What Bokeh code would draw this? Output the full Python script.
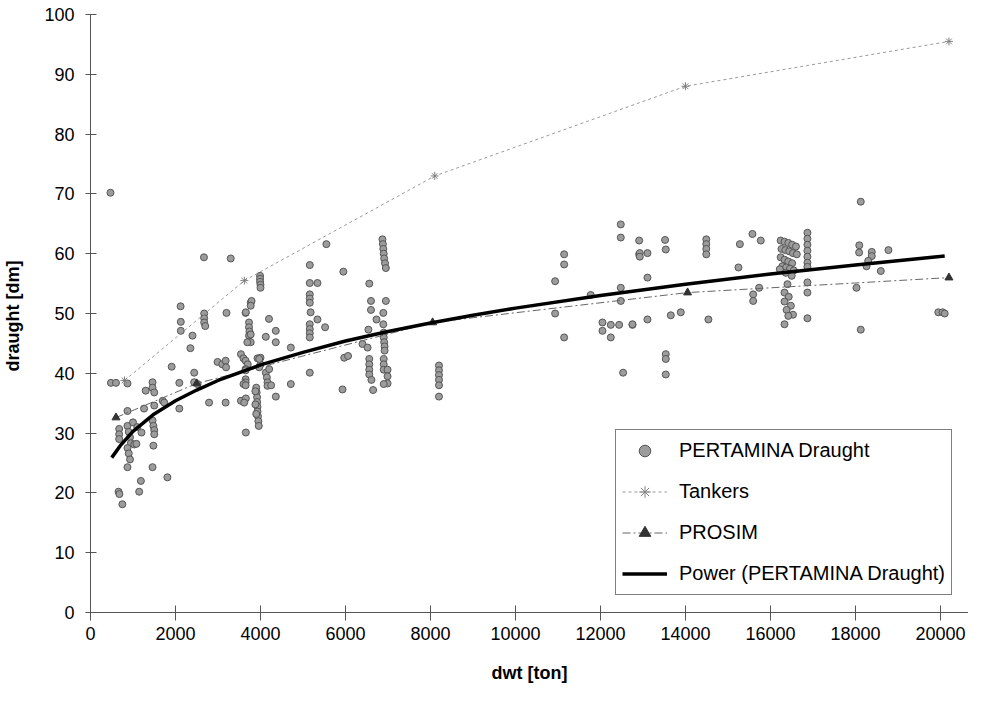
from bokeh.plotting import figure
from bokeh.models import Range1d, FixedTicker, Legend, LegendItem
from bokeh.embed import file_html
from bokeh.resources import INLINE

# PERTAMINA Draught (dwt [ton], draught [dm])
pert_dwt = [
    470, 480, 600, 870, 660, 680, 750, 675, 675, 675,
    870, 900, 930, 950, 870, 900, 930, 1030, 1080, 870,
    1145, 1185, 1460, 1810, 1460, 1480, 1500, 1500, 1480,
    870, 1260, 1500, 1700, 1735, 1300, 1460, 1460, 1500,
    2090, 2090, 2440, 2520, 1910, 2440, 2120, 2125, 2125, 2400, 2350,
    2675, 2675, 2675, 2700, 2670, 3300, 3200, 3650, 2790, 3180, 3540,
    2990, 3100, 3180, 3190, 1000, 1100, 1200,
    3540, 3600, 3650, 3700, 3650, 3650, 3650, 3650, 3600, 3650,
    3930, 4000, 4000, 3770, 3790, 3770, 3655,
    3730, 3730, 3740, 3730, 3770, 3770, 3690,
    3990, 3990, 3990, 4000, 4000,
    4200, 4360, 4125, 4360, 4714,
    4125, 4150, 4165, 4165, 4250, 4204,
    3900, 3910, 3920, 3920, 3930, 3930, 3940, 3950, 3960, 3880, 3880, 3900,
    3655, 3655, 3616, 4714, 4361, 3970, 3970,
    5550, 5160, 5950, 5160, 5340, 5160, 5160, 5160, 5180, 5340, 5160, 5160, 5160, 5160, 5520,
    5160, 5930, 5970, 6060,
    6560, 6600, 6950, 6600, 6890, 6730, 6890, 6540,
    6900, 6900, 6910, 6920, 6920, 6400, 6520,
    6870, 6880, 6890, 6900, 6910, 6930, 6950,
    6560, 6560, 6560, 6560, 6900, 6900, 6900, 6990, 6990, 6990, 6610, 6900, 6650,
    8200, 8200, 8200, 8200, 8200, 8200,
    11145, 11145, 10933, 10933, 11145,
    12478, 12478, 12910, 12910, 12478, 12478, 11770,
    12047, 12047, 12243, 12439, 12753, 12243, 12533,
    12925, 12925, 13106, 13106, 13106, 12753,
    13520, 13537, 13537, 13537, 13537, 13655, 13890,
    14490, 14490, 14490, 14490, 14540,
    15280, 15576, 15772, 15247, 15733, 15593, 15593,
    16240, 16330, 16420, 16510, 16600, 16260, 16350, 16440, 16530, 16620,
    16240, 16330, 16420, 16510, 16280, 16370, 16460, 16550,
    16870, 16870, 16870, 16870, 16870, 16870, 16870,
    16220, 16360, 16500, 16400,
    16330, 16430, 16330, 16480, 16380, 16530, 16420,
    16870, 16870, 16870, 16330,
    18090, 18086, 18125, 18384, 18384, 18776, 18300, 18260, 18596, 18024, 18125,
    19950, 20050, 20100,
]
pert_draught = [
    70.2, 38.4, 38.4, 38.3, 20.2, 19.8, 18.1, 30.7, 29.8, 29.0,
    31.2, 30.2, 29.3, 28.3, 27.5, 26.6, 25.6, 28.1, 28.2, 24.3,
    20.2, 22.0, 24.3, 22.6, 32.1, 31.2, 30.5, 29.8, 27.9,
    33.7, 34.1, 34.6, 35.4, 35.1, 37.1, 38.5, 37.6, 36.8,
    38.4, 34.1, 38.5, 38.2, 41.1, 40.1, 51.2, 48.6, 47.1, 46.3, 44.2,
    50.0, 49.2, 48.5, 47.9, 59.4, 59.2, 50.1, 50.1, 35.1, 35.1, 35.4,
    41.9, 41.5, 42.1, 41.0, 31.8, 31.0, 30.1,
    43.2, 42.5, 42.1, 41.5, 40.7, 40.5, 39.0, 38.5, 38.2, 38.0,
    42.5, 42.6, 41.5, 51.8, 52.1, 51.3, 50.2,
    48.5, 47.7, 47.0, 46.3, 46.5, 45.2, 45.2,
    56.3, 55.8, 55.3, 54.8, 54.3,
    49.1, 47.1, 46.1, 45.2, 44.3,
    40.1, 39.3, 38.5, 37.9, 38.0, 40.7,
    37.6, 36.8, 36.0, 35.2, 34.4, 33.6, 32.8, 32.0, 31.2, 37.0, 34.8, 33.2,
    30.1, 35.8, 35.1, 38.2, 36.1, 42.4, 41.0,
    61.6, 58.1, 57.0, 55.1, 55.1, 53.2, 52.5, 51.8, 50.2, 49.0, 48.2, 47.4, 46.7, 46.0, 47.7,
    40.1, 37.3, 42.6, 42.9,
    55.0, 52.1, 52.1, 50.6, 50.1, 49.0, 48.2, 47.3,
    46.8, 46.0, 45.2, 44.5, 43.8, 44.9, 44.3,
    62.4, 61.6, 60.8, 60.0, 59.2, 58.4, 57.6,
    42.4, 41.5, 40.6, 39.8, 42.4, 41.5, 40.6, 40.6, 39.5, 38.3, 38.9, 38.2, 37.2,
    41.3, 40.5, 39.7, 38.9, 38.0, 36.1,
    59.9, 58.2, 55.4, 50.0, 46.0,
    64.9, 62.7, 62.2, 59.9, 54.3, 52.1, 53.1,
    48.5, 47.1, 48.1, 48.1, 48.1, 46.0, 40.1,
    60.1, 59.5, 60.1, 56.0, 49.0, 48.2,
    62.3, 60.7, 43.2, 42.4, 39.8, 49.7, 50.2,
    62.4, 61.6, 60.8, 59.9, 49.0,
    61.6, 63.3, 62.2, 57.7, 54.3, 53.2, 52.1,
    62.2, 62.0, 61.8, 61.5, 61.2, 60.8, 60.6, 60.4, 60.1, 59.9,
    59.4, 59.0, 58.7, 58.4, 57.9, 57.7, 57.5, 57.2,
    63.5, 62.5, 61.5, 60.5, 59.5, 58.5, 57.8,
    57.4, 56.8, 56.3, 54.9,
    53.5, 52.8, 52.0, 51.3, 50.6, 49.8, 49.6,
    55.2, 53.5, 49.2, 48.2,
    61.4, 60.2, 68.7, 60.3, 59.6, 60.6, 58.8, 57.9, 57.1, 54.3, 47.3,
    50.2, 50.2, 50.0,
]

# Tankers series
tank_dwt = [800, 3620, 8100, 14000, 20200]
tank_draught = [38.8, 55.5, 73.0, 88.0, 95.5]

# PROSIM series
prosim_dwt = [600, 2500, 8050, 14050, 20200]
prosim_draught = [32.6, 38.3, 48.5, 53.5, 56.0]

# Power (PERTAMINA Draught) trend line
trend_dwt = [500, 700, 1000, 1500, 2000, 2500, 3000, 4000, 5000, 6000, 7000,
             8000, 9000, 10000, 12000, 14000, 16000, 18000, 20100]
trend_draught = [25.9, 27.9, 30.3, 33.2, 35.4, 37.2, 38.8, 41.4, 43.5, 45.4, 47.0,
                 48.4, 49.7, 50.9, 53.0, 54.9, 56.6, 58.1, 59.6]

x_ticks = [0, 2000, 4000, 6000, 8000, 10000, 12000, 14000, 16000, 18000, 20000]
y_ticks = [0, 10, 20, 30, 40, 50, 60, 70, 80, 90, 100]

FONT = "Liberation Sans"

p = figure(width=968, height=687, output_backend="svg", toolbar_location=None,
           x_range=Range1d(0, 20660), y_range=Range1d(0, 100),
           min_border_left=90, min_border_right=0, min_border_top=14,
           min_border_bottom=75)
p.outline_line_color = None
p.xgrid.visible = False
p.ygrid.visible = False
p.background_fill_color = "white"
p.border_fill_color = "white"

r_pert = p.scatter(pert_dwt, pert_draught, marker="circle", size=7,
                   fill_color="#9c9c9c", line_color="#555555", line_width=1)
r_tank_l = p.line(tank_dwt, tank_draught, line_color="#9a9a9a", line_width=1,
                  line_dash="3 3")
r_tank_m = p.scatter(tank_dwt, tank_draught, marker="asterisk", size=8,
                     line_color="#808080", line_width=1)
r_pros_l = p.line(prosim_dwt, prosim_draught, line_color="#666666", line_width=1,
                  line_dash="8 3 2 3")
r_pros_m = p.scatter(prosim_dwt, prosim_draught, marker="triangle", size=8,
                     fill_color="#333333", line_color="#333333")
r_trend = p.line(trend_dwt, trend_draught, line_color="black", line_width=3.5)

for ax in (p.xaxis[0], p.yaxis[0]):
    ax.axis_line_color = "#555555"
    ax.major_tick_line_color = "#555555"
    ax.minor_tick_line_color = None
    ax.major_label_text_font = FONT
    ax.major_label_text_font_size = "18px"
    ax.major_label_text_color = "black"
    ax.axis_label_text_font = FONT
    ax.axis_label_text_font_size = "18px"
    ax.axis_label_text_font_style = "bold"
    ax.axis_label_text_color = "black"

p.xaxis.ticker = FixedTicker(ticks=x_ticks)
p.yaxis.ticker = FixedTicker(ticks=y_ticks)
p.xaxis.axis_label = "dwt [ton]"
p.yaxis.axis_label = "draught  [dm]"
p.xaxis.major_tick_out = 8
p.xaxis.major_tick_in = 7
p.xaxis.major_label_standoff = 6
p.xaxis.axis_label_standoff = 20
p.yaxis.major_tick_out = 5
p.yaxis.major_tick_in = 6
p.yaxis.major_label_standoff = 11
p.yaxis.axis_label_standoff = 18

legend = Legend(items=[
    LegendItem(label="PERTAMINA Draught", renderers=[r_pert]),
    LegendItem(label="Tankers", renderers=[r_tank_l, r_tank_m]),
    LegendItem(label="PROSIM", renderers=[r_pros_l, r_pros_m]),
    LegendItem(label="Power (PERTAMINA Draught)", renderers=[r_trend]),
], location=(525, 17))
legend.label_text_font = FONT
legend.label_text_font_size = "20px"
legend.label_text_color = "black"
legend.glyph_width = 45
legend.glyph_height = 29
legend.label_height = 29
legend.label_standoff = 12
legend.spacing = 12
legend.padding = 6
legend.margin = 0
legend.border_line_color = "black"
legend.border_line_width = 1
legend.background_fill_color = "white"
legend.background_fill_alpha = 1
p.add_layout(legend)

open("out.html", "w").write(file_html(p, INLINE))
